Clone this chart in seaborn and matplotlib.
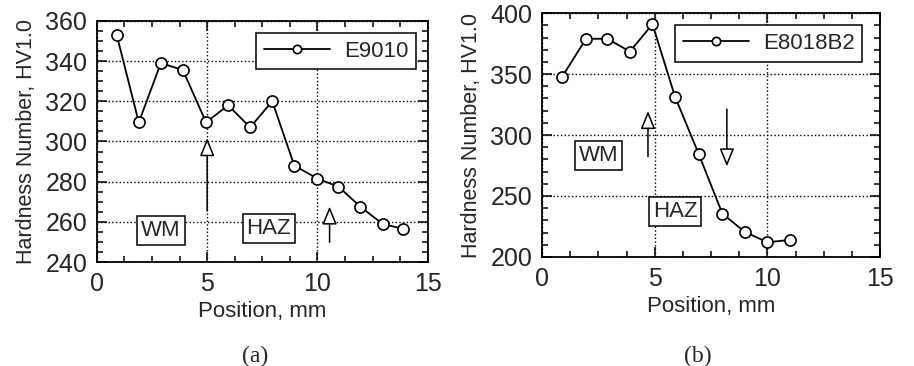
import numpy as np
import pandas as pd
import matplotlib
matplotlib.use("Agg")
import matplotlib.pyplot as plt
import seaborn as sns
from matplotlib.ticker import MultipleLocator

# hardness traverse data
pos_a = [0.9, 1.9, 2.9, 3.9, 4.95, 5.95, 6.95, 7.95, 8.95, 10.0, 10.95, 11.95, 12.95, 13.9]
hv_a = [353, 309.5, 339, 335.5, 309.5, 318, 307, 320, 288, 281.5, 277.5, 267.5, 259, 256.5]

pos_b = [0.9, 1.95, 2.9, 3.9, 4.9, 5.9, 6.95, 8.0, 9.0, 10.0, 11.0]
hv_b = [348, 379, 379, 368.5, 391, 331.5, 284.5, 235.5, 220.5, 212, 214]

label_a = "E9010"
label_b = "E8018B2"

sns.set_style("ticks")
plt.rcParams["font.family"] = ["Liberation Sans", "DejaVu Sans"]

fig = plt.figure(figsize=(9.14, 3.66), dpi=100)
ax1 = fig.add_axes([0.106, 0.284, 0.362, 0.659])
ax2 = fig.add_axes([0.593, 0.298, 0.370, 0.666])

df_a = pd.DataFrame({"Position": pos_a, "HV": hv_a})
df_b = pd.DataFrame({"Position": pos_b, "HV": hv_b})

for ax, df, lab in [(ax1, df_a, label_a), (ax2, df_b, label_b)]:
    sns.lineplot(data=df, x="Position", y="HV", ax=ax, color="black", lw=1.3,
                 marker="o", markersize=8, markerfacecolor="white",
                 markeredgecolor="black", markeredgewidth=1.2, label=lab, zorder=3)

ax1.set_ylim(240, 360)
ax2.set_ylim(200, 400)
ax1.yaxis.set_major_locator(MultipleLocator(20))
ax1.yaxis.set_minor_locator(MultipleLocator(5))
ax2.yaxis.set_major_locator(MultipleLocator(50))
ax2.yaxis.set_minor_locator(MultipleLocator(10))

for ax in (ax1, ax2):
    ax.set_xlim(0, 15)
    ax.xaxis.set_major_locator(MultipleLocator(5))
    ax.xaxis.set_minor_locator(MultipleLocator(1.25))
    ax.tick_params(which="both", top=True, right=True, direction="in", color="black")
    ax.tick_params(which="major", length=7, width=1.1, labelsize=18, pad=7)
    ax.tick_params(which="minor", length=4, width=1.1)
    ax.grid(True, which="major", linestyle=":", color="black", lw=1.0)
    for s in ax.spines.values():
        s.set_linewidth(1.3)
        s.set_color("black")
    ax.set_xlabel("Position, mm", fontsize=16, labelpad=4)
    ax.set_ylabel("Hardness Number, HV1.0", fontsize=15.5, labelpad=6)

# legends sit near the top-right corner with an opaque square frame
for ax, anchor in [(ax1, (0.964, 0.95)), (ax2, (0.947, 0.951))]:
    leg = ax.legend(loc="upper right", fontsize=16, frameon=True, fancybox=False,
                    framealpha=1, handlelength=3.0, handletextpad=0.6, borderpad=0.35,
                    borderaxespad=0, bbox_to_anchor=anchor, markerscale=0.75)
    leg.get_frame().set_edgecolor("black")
    leg.get_frame().set_linewidth(1.1)

box = dict(boxstyle="square,pad=0.18", fc="white", ec="black", lw=1.1)
arrow = dict(arrowstyle="-|>,head_length=1.1,head_width=0.45", fc="white", ec="black", lw=1.1)

ax1.text(2.9, 255.5, "WM", fontsize=16, ha="center", va="center", bbox=box)
ax1.text(7.8, 256.5, "HAZ", fontsize=16, ha="center", va="center", bbox=box)
ax1.annotate("", xy=(5.0, 303), xytext=(5.0, 264), arrowprops=arrow)
ax1.annotate("", xy=(10.55, 269), xytext=(10.55, 248.5), arrowprops=arrow)

ax2.text(2.5, 283, "WM", fontsize=16, ha="center", va="center", bbox=box)
ax2.text(5.9, 237, "HAZ", fontsize=16, ha="center", va="center", bbox=box)
ax2.annotate("", xy=(4.7, 322), xytext=(4.7, 280), arrowprops=arrow)
ax2.annotate("", xy=(8.2, 272), xytext=(8.2, 323.5), arrowprops=arrow)

fig.text(0.279, 0.027, "(a)", fontsize=17, ha="center", va="center", family="Liberation Serif")
fig.text(0.764, 0.027, "(b)", fontsize=17, ha="center", va="center", family="Liberation Serif")

fig.savefig("out.png", dpi=100, facecolor="white")
